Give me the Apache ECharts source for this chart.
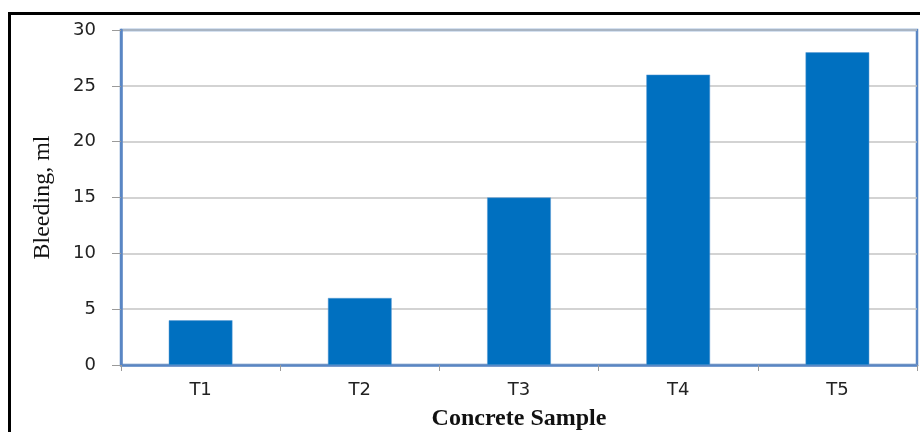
<!DOCTYPE html>
<html>
<head>
<meta charset="utf-8">
<script src="https://cdn.jsdelivr.net/npm/echarts@6/dist/echarts.min.js"></script>
<style>
html,body{margin:0;padding:0;background:#fff;}
#chart{width:920px;height:432px;}
</style>
</head>
<body>
<div id="chart"></div>
<script>
const categories = ['T1', 'T2', 'T3', 'T4', 'T5'];
const bleeding = [4, 6, 15, 26, 28];
const yTicks = {min: 0, max: 30, interval: 5};

const chart = echarts.init(document.getElementById('chart'));
chart.setOption({
  animation: false,
  backgroundColor: '#ffffff',
  graphic: [{
    type: 'rect',
    shape: {x: 9.5, y: 13.5, width: 930, height: 440},
    style: {fill: 'none', stroke: '#000', lineWidth: 3},
    silent: true
  }],
  grid: {
    left: 121, top: 30, right: 3, bottom: 67,
    outerBoundsMode: 'none',
    containLabel: false,
    show: true, borderColor: '#5A86C4', borderWidth: 2.5, backgroundColor: 'transparent'
  },
  xAxis: {
    type: 'category',
    data: categories,
    axisLine: {lineStyle: {color: '#5A86C4', width: 2.5}},
    axisTick: {show: true, length: 6, lineStyle: {color: '#9a9a9a'}},
    axisLabel: {color: '#222', fontFamily: 'DejaVu Sans', fontSize: 18, margin: 16},
    name: 'Concrete Sample',
    nameLocation: 'middle',
    nameGap: 42,
    nameTextStyle: {fontFamily: 'Liberation Serif', fontWeight: 'bold', fontSize: 24, color: '#111'}
  },
  yAxis: {
    type: 'value',
    min: yTicks.min, max: yTicks.max, interval: yTicks.interval,
    axisLine: {show: true, lineStyle: {color: '#5A86C4', width: 2.5}},
    axisTick: {show: true, length: 9, lineStyle: {color: '#9a9a9a'}},
    splitLine: {show: true, lineStyle: {color: '#c4c4c4', width: 1.5}},
    axisLabel: {color: '#222', fontFamily: 'DejaVu Sans', fontSize: 18, margin: 25},
    name: 'Bleeding, ml',
    nameLocation: 'middle',
    nameGap: 66,
    nameTextStyle: {fontFamily: 'Liberation Serif', fontSize: 24, color: '#111'}
  },
  series: [{
    type: 'bar',
    data: bleeding,
    barWidth: '40%',
    itemStyle: {color: '#0070C0', borderColor: '#5b9bd5', borderWidth: 0.5}
  }]
});
</script>
</body>
</html>
